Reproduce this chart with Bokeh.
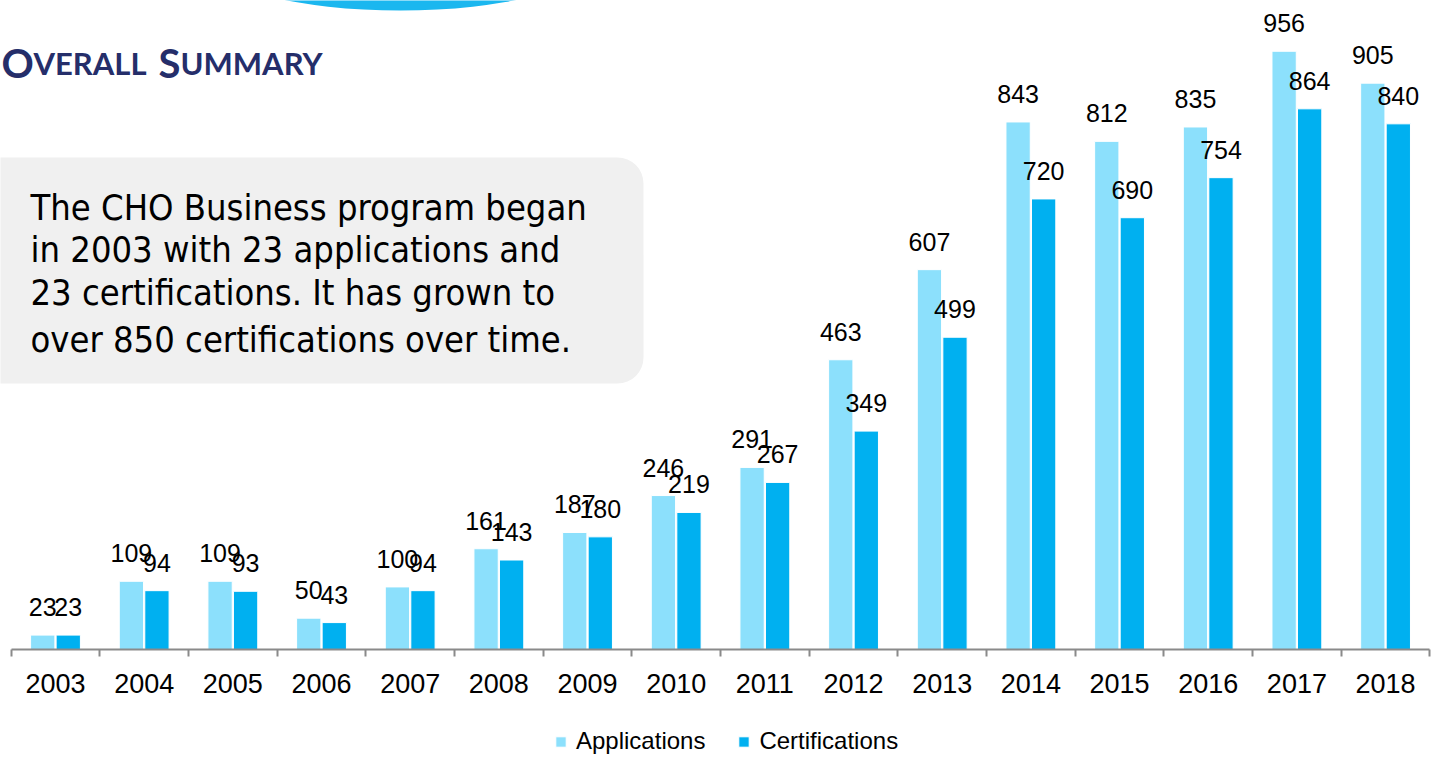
import numpy as np
from bokeh.plotting import figure
from bokeh.models import (ColumnDataSource, Range1d, LinearAxis, FixedTicker, LabelSet, Label,
                          BoxAnnotation, Legend, LegendItem, CustomJSTickFormatter)
from bokeh.transform import dodge
from bokeh.core.properties import value
from bokeh.embed import file_html
from bokeh.resources import INLINE

# ---- data ----
years = ["2003", "2004", "2005", "2006", "2007", "2008", "2009", "2010",
         "2011", "2012", "2013", "2014", "2015", "2016", "2017", "2018"]
applications = [23, 109, 109, 50, 100, 161, 187, 246, 291, 463, 607, 843, 812, 835, 956, 905]
certifications = [23, 94, 93, 43, 94, 143, 180, 219, 267, 349, 499, 720, 690, 754, 864, 840]
series_names = ["Applications", "Certifications"]
series_colors = ["#8CE0FC", "#00B0F0"]

title_parts = ["O", "VERALL", "S", "UMMARY"]
note_lines = ["The CHO Business program began",
              "in 2003 with 23 applications and",
              "23 certifications. It has grown to",
              "over 850 certifications over time."]

# ---- figure ----
n = len(years)
xc = np.arange(n) + 0.5
src = ColumnDataSource(dict(
    x=xc, app=applications, cert=certifications,
    app_s=[str(v) for v in applications], cert_s=[str(v) for v in certifications]))

p = figure(width=1438, height=757, output_backend="svg", toolbar_location=None,
           x_range=Range1d(-0.1203, 16.097), y_range=Range1d(-172.6, 1037.1),
           x_axis_location=None, y_axis_location=None,
           min_border_left=0, min_border_right=0, min_border_top=0, min_border_bottom=0,
           outline_line_color=None, background_fill_color="white")
p.xgrid.grid_line_color = None
p.ygrid.grid_line_color = None

# decorative header shape (slide artwork at the top edge)
p.ellipse(x=[4.39], y=[1101], width=378, height=100, width_units="screen",
          height_units="screen", fill_color="#1BB7EF", line_color=None)

off = 0.144
bw = 0.274
r1 = p.vbar(x=dodge("x", -off), top="app", width=bw, source=src,
            fill_color=series_colors[0], line_color="white", line_width=1)
r2 = p.vbar(x=dodge("x", off), top="cert", width=bw, source=src,
            fill_color=series_colors[1], line_color="white", line_width=1)

lab_font = value("Liberation Sans")
p.add_layout(LabelSet(x=dodge("x", -off), y="app", text="app_s", source=src,
                      text_align="center", text_baseline="alphabetic", y_offset=19,
                      text_font=lab_font, text_font_size="25px", text_color="#000000"))
p.add_layout(LabelSet(x=dodge("x", off), y="cert", text="cert_s", source=src,
                      text_align="center", text_baseline="alphabetic", y_offset=19,
                      text_font=lab_font, text_font_size="25px", text_color="#000000"))

ax = LinearAxis(fixed_location=0, bounds=(0, n),
                ticker=FixedTicker(ticks=list(xc), minor_ticks=list(range(n + 1))),
                formatter=CustomJSTickFormatter(args=dict(years=years),
                                                code="return years[Math.floor(tick)];"),
                axis_line_color="#8A8A8A", axis_line_width=2,
                major_tick_in=0, major_tick_out=0, major_tick_line_color=None,
                minor_tick_in=0, minor_tick_out=7, minor_tick_line_color="#8A8A8A",
                minor_tick_line_width=2,
                major_label_standoff=18,
                major_label_text_font="Liberation Sans",
                major_label_text_font_size="27px", major_label_text_color="#000000")
p.add_layout(ax, "below")

legend = Legend(items=[LegendItem(label=series_names[0], renderers=[r1]),
                       LegendItem(label=series_names[1], renderers=[r2])],
                orientation="horizontal", location=(554, 2), padding=0, margin=0,
                spacing=32, glyph_width=13, glyph_height=13, label_standoff=9,
                label_height=26,
                label_text_font="Liberation Sans", label_text_font_size="24px",
                label_text_color="#000000",
                border_line_color=None, background_fill_alpha=0)
p.add_layout(legend)

# ---- note box ----
p.add_layout(BoxAnnotation(left=-30, right=643, bottom=374, top=600,
                           left_units="screen", right_units="screen",
                           bottom_units="screen", top_units="screen",
                           fill_color="#F0F0F0", fill_alpha=1, line_color=None,
                           border_radius=26))
for txt, yy in zip(note_lines, [550, 508, 465, 418]):
    p.add_layout(Label(x=30, y=yy, x_units="screen", y_units="screen", text=txt,
                       text_font="DejaVu Sans Condensed", text_font_size="36px",
                       text_color="#000000", text_baseline="alphabetic"))

# ---- title (small caps) ----
navy = "#252E6A"
for txt, xx, size in zip(title_parts, [1, 33, 158, 180], ["40px", "31px", "40px", "31px"]):
    p.add_layout(Label(x=xx, y=695, x_units="screen", y_units="screen", text=txt,
                       text_font="Lato", text_font_style="bold", text_font_size=size,
                       text_color=navy, text_baseline="alphabetic"))

open("out.html", "w").write(file_html(p, INLINE))
